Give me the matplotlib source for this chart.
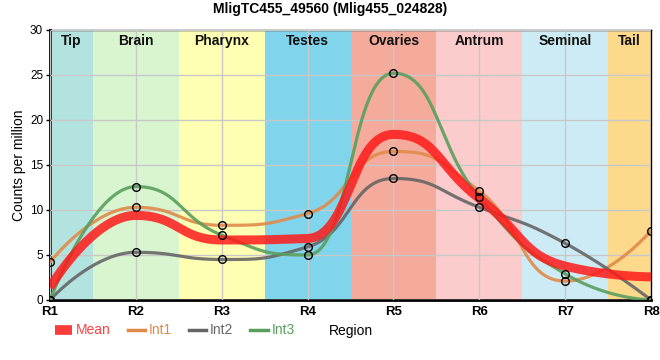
import matplotlib
matplotlib.use('Agg')
import matplotlib.pyplot as plt
import numpy as np

plt.rcParams['font.family'] = ['Liberation Sans', 'DejaVu Sans']

# data
regions = ['R1', 'R2', 'R3', 'R4', 'R5', 'R6', 'R7', 'R8']
int1 = [4.2, 10.3, 8.3, 9.6, 16.5, 12.1, 2.1, 7.7]
int2 = [0.0, 5.3, 4.5, 5.9, 13.5, 10.3, 6.3, 0.0]
int3 = [0.0, 12.6, 7.2, 5.0, 25.2, 11.4, 2.9, 0.0]
mean = list(np.mean([int1, int2, int3], axis=0))

bands = ['Tip', 'Brain', 'Pharynx', 'Testes', 'Ovaries', 'Antrum', 'Seminal', 'Tail']
band_edges = [1, 1.5, 2.5, 3.5, 4.5, 5.5, 6.5, 7.5, 8]
band_colors = ['#b3e3df', '#d8f5d0', '#ffffb3', '#80d5ec',
               '#f4ab9c', '#fccbcb', '#cdebf4', '#fdd98c']

C_INT1 = '#e08a4a'
C_INT2 = '#666666'
C_INT3 = '#5a9e5e'
C_MEAN = '#ff1a1a'


def spline(x, y, n=40):
    # bezier spline, control points half way to the neighbours, flattened at extremes
    x = np.asarray(x, float)
    y = np.asarray(y, float)
    m = len(x)
    lcx, lcy = x.copy(), y.copy()
    rcx, rcy = x.copy(), y.copy()
    for i in range(1, m - 1):
        lx = (x[i] + x[i - 1]) / 2
        ly = (y[i] + y[i - 1]) / 2
        rx = (x[i] + x[i + 1]) / 2
        ry = (y[i] + y[i + 1]) / 2
        corr = (ry - ly) * (rx - x[i]) / (rx - lx) + y[i] - ry
        ly += corr
        ry += corr
        if ly > y[i - 1] and ly > y[i]:
            ly = max(y[i - 1], y[i])
            ry = 2 * y[i] - ly
        elif ly < y[i - 1] and ly < y[i]:
            ly = min(y[i - 1], y[i])
            ry = 2 * y[i] - ly
        if ry > y[i + 1] and ry > y[i]:
            ry = max(y[i + 1], y[i])
            ly = 2 * y[i] - ry
        elif ry < y[i + 1] and ry < y[i]:
            ry = min(y[i + 1], y[i])
            ly = 2 * y[i] - ry
        lcx[i], lcy[i], rcx[i], rcy[i] = lx, ly, rx, ry
    xs, ys = [], []
    u = np.linspace(0, 1, n)[:, None]
    for i in range(m - 1):
        p0 = np.array([x[i], y[i]])
        p1 = np.array([rcx[i], rcy[i]])
        p2 = np.array([lcx[i + 1], lcy[i + 1]])
        p3 = np.array([x[i + 1], y[i + 1]])
        b = (1 - u)**3 * p0 + 3 * (1 - u)**2 * u * p1 + 3 * (1 - u) * u**2 * p2 + u**3 * p3
        xs.append(b[:, 0])
        ys.append(b[:, 1])
    return np.concatenate(xs), np.concatenate(ys)


fig = plt.figure(figsize=(6.6, 3.6), dpi=100)
ax = fig.add_axes([0.0758, 0.1667, 0.9106, 0.75])

xpos = np.arange(1, len(regions) + 1)

for i, name in enumerate(bands):
    ax.axvspan(band_edges[i], band_edges[i + 1], color=band_colors[i], lw=0, zorder=0)
    ax.text((band_edges[i] + band_edges[i + 1]) / 2, 0.96, name, transform=ax.get_xaxis_transform(),
            ha='center', va='center', fontsize=10, fontweight='bold', color='#111111', zorder=6)

ax.grid(True, color='#c8c8c8', lw=1, zorder=1)
ax.set_axisbelow(False)
for gl in ax.get_xgridlines() + ax.get_ygridlines():
    gl.set_zorder(1)

sx, sy = spline(xpos, int1)
ax.plot(sx, sy, color=C_INT1, lw=2.3, alpha=0.9, zorder=3, solid_capstyle='butt')
sx, sy = spline(xpos, int2)
ax.plot(sx, sy, color=C_INT2, lw=2.3, alpha=0.9, zorder=3, solid_capstyle='butt')
sx, sy = spline(xpos, int3)
ax.plot(sx, sy, color=C_INT3, lw=2.3, alpha=0.9, zorder=3, solid_capstyle='butt')
sx, sy = spline(xpos, mean)
ax.plot(sx, sy, color=C_MEAN, lw=6.5, alpha=0.85, zorder=4, solid_capstyle='butt')

for vals in (int1, int2, int3):
    ax.plot(xpos, vals, ls='none', marker='o', ms=5.5, mfc='none', mec='black', mew=1, zorder=5)

ax.set_xlim(1, 8)
ax.set_ylim(0, 30)
ax.set_xticks(xpos)
ax.set_xticklabels(regions, fontsize=9.5, fontweight='bold')
ax.set_yticks(np.arange(0, 31, 5))
ax.tick_params(axis='y', labelsize=8.5, length=3, width=1, pad=2)
ax.tick_params(axis='x', length=0, pad=4)

ax.spines['left'].set_linewidth(2)
ax.spines['bottom'].set_linewidth(2)
ax.spines['top'].set_linewidth(1)
ax.spines['right'].set_linewidth(1)

ax.set_ylabel('Counts per million', fontsize=10, labelpad=3)
fig.text(0.532, 0.08, 'Region', ha='center', va='center', fontsize=10)
fig.text(0.5, 0.975, 'MligTC455_49560 (Mlig455_024828)', ha='center', va='center',
         fontsize=10, fontweight='bold')

h_mean, = ax.plot([], [], color=C_MEAN, lw=7, alpha=0.85, solid_capstyle='butt')
h1, = ax.plot([], [], color=C_INT1, lw=2.5)
h2, = ax.plot([], [], color=C_INT2, lw=2.5)
h3, = ax.plot([], [], color=C_INT3, lw=2.5)
leg = fig.legend([h_mean, h1, h2, h3], ['Mean', 'Int1', 'Int2', 'Int3'], loc='center left',
                 bbox_to_anchor=(0.068, 0.082), ncol=4, frameon=False, fontsize=10,
                 handlelength=1.25, handletextpad=0.25, columnspacing=1.25, borderpad=0.2)
for txt, c in zip(leg.get_texts(), ['#ff4040', C_INT1, C_INT2, C_INT3]):
    txt.set_color(c)

fig.savefig('out.png', dpi=100)
